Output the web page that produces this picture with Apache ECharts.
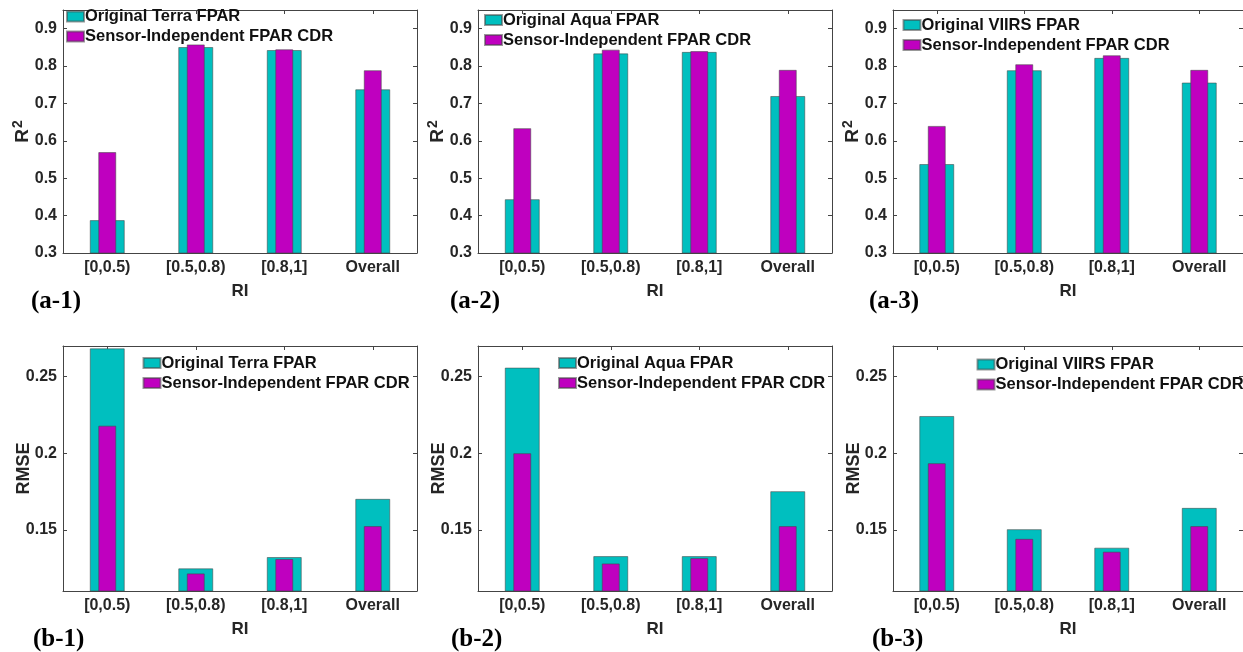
<!DOCTYPE html>
<html>
<head>
<meta charset="utf-8">
<script src="https://cdn.jsdelivr.net/npm/echarts@6/dist/echarts.min.js"></script>
<style>
html,body{margin:0;padding:0;background:#fff;}
#c{width:1243px;height:652px;}
</style>
</head>
<body>
<div id="c"></div>
<script>
// ---------- data ----------
const categories = ['[0,0.5)', '[0.5,0.8)', '[0.8,1]', 'Overall'];

const r2Terra      = [0.388, 0.851, 0.843, 0.738];
const r2CdrTerra   = [0.570, 0.858, 0.845, 0.789];
const r2Aqua       = [0.444, 0.834, 0.838, 0.720];
const r2CdrAqua    = [0.634, 0.844, 0.840, 0.790];
const r2Viirs      = [0.538, 0.789, 0.822, 0.756];
const r2CdrViirs   = [0.640, 0.805, 0.829, 0.790];

const rmseTerra    = [0.2685, 0.1248, 0.1322, 0.1702];
const rmseCdrTerra = [0.2180, 0.1215, 0.1309, 0.1524];
const rmseAqua     = [0.2559, 0.1328, 0.1328, 0.1752];
const rmseCdrAqua  = [0.2000, 0.1280, 0.1315, 0.1524];
const rmseViirs    = [0.2243, 0.1504, 0.1383, 0.1643];
const rmseCdrViirs = [0.1935, 0.1441, 0.1357, 0.1524];

const r2Ticks   = [0.3, 0.4, 0.5, 0.6, 0.7, 0.8, 0.9];
const rmseTicks = [0.15, 0.2, 0.25];

const origNames = ['Original Terra FPAR', 'Original Aqua FPAR', 'Original VIIRS FPAR'];
const cdrName = 'Sensor-Independent FPAR CDR';
const panelLabels = ['(a-1)', '(a-2)', '(a-3)', '(b-1)', '(b-2)', '(b-3)'];
const xName = 'RI';

// ---------- layout ----------
const colLefts = [63, 478, 893];
const plotW = 354;
const rowTops = [10, 346];
const rowHeights = [243, 245];
const legendPos = [
  [66, 6.5], [484, 10], [902.5, 15],
  [142.5, 353], [558, 353], [976.5, 354.5]
];
const labelPos = [
  [31, 302], [450, 302], [869, 302],
  [33, 640], [451, 640], [872, 640]
];

const CYAN = '#00BFBF', MAG = '#BF00BF';
const AXC = '#444', TXT = '#262626';
const FONT = '"Liberation Sans", Arial, sans-serif';

const panels = [
  {orig: r2Terra, cdr: r2CdrTerra, on: 0, row: 0},
  {orig: r2Aqua, cdr: r2CdrAqua, on: 1, row: 0},
  {orig: r2Viirs, cdr: r2CdrViirs, on: 2, row: 0},
  {orig: rmseTerra, cdr: rmseCdrTerra, on: 0, row: 1},
  {orig: rmseAqua, cdr: rmseCdrAqua, on: 1, row: 1},
  {orig: rmseViirs, cdr: rmseCdrViirs, on: 2, row: 1}
];

const grid = [], xAxis = [], yAxis = [], series = [], legend = [], graphic = [];

panels.forEach((p, i) => {
  const col = i % 3, row = p.row;
  grid.push({left: colLefts[col], top: rowTops[row], width: plotW, height: rowHeights[row], containLabel: false});
  const isR2 = row === 0;
  // bottom x axis
  xAxis.push({
    gridIndex: i, type: 'category', data: categories, position: 'bottom',
    boundaryGap: true,
    axisLine: {show: true, lineStyle: {color: AXC, width: 1}},
    axisTick: {show: true, inside: true, alignWithLabel: true, length: 4, lineStyle: {color: AXC}},
    axisLabel: {show: true, margin: 7, fontFamily: FONT, fontWeight: 'bold', fontSize: 16, color: TXT},
    name: xName, nameLocation: 'middle', nameGap: 30, nameMoveOverlap: false,
    nameTextStyle: {fontFamily: FONT, fontWeight: 'bold', fontSize: 17, color: TXT},
    splitLine: {show: false}
  });
  // top x axis (box + magenta series)
  xAxis.push({
    gridIndex: i, type: 'category', data: categories, position: 'top',
    boundaryGap: true,
    axisLine: {show: true, lineStyle: {color: AXC, width: 1}},
    axisTick: {show: true, inside: true, alignWithLabel: true, length: 4, lineStyle: {color: AXC}},
    axisLabel: {show: false},
    splitLine: {show: false}
  });
  const yBase = isR2
    ? {min: 0.3, max: 0.95, interval: 0.1}
    : {min: 0.11, max: 0.27};
  const tickVals = isR2 ? r2Ticks : rmseTicks;
  yAxis.push(Object.assign({
    gridIndex: i, type: 'value', position: 'left',
    axisLine: {show: true, lineStyle: {color: AXC, width: 1}},
    axisTick: {show: true, inside: true, length: 4, lineStyle: {color: AXC}, customValues: tickVals},
    axisLabel: {show: true, margin: 6, fontFamily: FONT, fontWeight: 'bold', fontSize: 16, color: TXT,
      customValues: tickVals, formatter: v => String(+v.toFixed(2))},
    splitLine: {show: false},
    name: isR2 ? '{r|R}{s|2}' : 'RMSE',
    nameLocation: 'middle', nameGap: isR2 ? 29 : 30, nameMoveOverlap: false,
    nameTextStyle: {fontFamily: FONT, fontWeight: 'bold', fontSize: 18, color: TXT,
      rich: {r: {fontFamily: FONT, fontWeight: 'bold', fontSize: 19, color: TXT},
             s: {fontFamily: FONT, fontWeight: 'bold', fontSize: 14, color: TXT, verticalAlign: 'top', padding: [0,0,9,1]}}}
  }, yBase));
  yAxis.push(Object.assign({
    gridIndex: i, type: 'value', position: 'right',
    axisLine: {show: true, lineStyle: {color: AXC, width: 1}},
    axisTick: {show: true, inside: true, length: 4, lineStyle: {color: AXC}, customValues: tickVals},
    axisLabel: {show: false},
    splitLine: {show: false}
  }, yBase));

  const origName = origNames[p.on];
  series.push({
    type: 'bar', name: origName, data: p.orig,
    xAxisIndex: 2 * i, yAxisIndex: 2 * i,
    barWidth: 35,
    itemStyle: {color: CYAN, borderColor: 'rgba(70,70,70,0.55)', borderWidth: 1},
    silent: true, animation: false
  });
  series.push({
    type: 'bar', name: cdrName, data: p.cdr,
    xAxisIndex: 2 * i + 1, yAxisIndex: 2 * i,
    barWidth: 18,
    itemStyle: {color: MAG, borderColor: 'rgba(70,70,70,0.55)', borderWidth: 1},
    silent: true, animation: false
  });

  legend.push({
    left: legendPos[i][0], top: legendPos[i][1], orient: 'vertical',
    padding: 0, itemGap: 0, itemWidth: 17, itemHeight: 10,
    icon: 'rect', selectedMode: false,
    data: [origName, cdrName],
    textStyle: {fontFamily: FONT, fontWeight: 'bold', fontSize: 16.5, color: '#111', lineHeight: 20, padding: [0, 0, 0, -4]}
  });

  graphic.push({
    type: 'text', x: labelPos[i][0], y: labelPos[i][1],
    style: {text: panelLabels[i], font: 'bold 25px "Liberation Serif", "Times New Roman", serif', fill: '#000',
      align: 'left', verticalAlign: 'middle'}
  });
});

const chart = echarts.init(document.getElementById('c'), null, {renderer: 'canvas'});
chart.setOption({
  backgroundColor: '#fff',
  animation: false,
  grid, xAxis, yAxis, series, legend, graphic
});
</script>
</body>
</html>
